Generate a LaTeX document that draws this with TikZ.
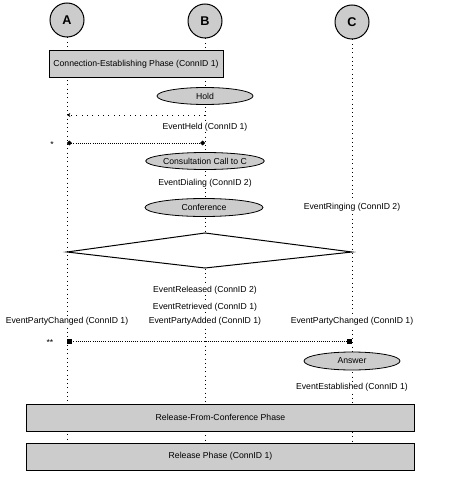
\documentclass[tikz,border=0pt]{standalone}
\usepackage{fontspec}
\setmainfont{Liberation Sans}
\usetikzlibrary{shapes.geometric,arrows.meta}

\newcommand{\evtfont}{\fontsize{6.5}{8}\selectfont}

\tikzset{
  party/.style={circle,draw,line width=0.75pt,fill=gray!40,minimum size=25.5pt,inner sep=0pt,font=\fontsize{9.5}{11}\selectfont\bfseries},
  phase/.style={draw,line width=0.75pt,fill=gray!40,inner sep=0pt,minimum height=20.25pt,font=\evtfont},
  action/.style={ellipse,draw,line width=0.6pt,fill=gray!40,inner sep=0pt,minimum height=12.75pt,font=\evtfont},
  evt/.style={fill=white,inner sep=0.75pt,font=\evtfont},
  note/.style={inner sep=0pt,font=\evtfont},
  lifeline/.style={line width=0.6pt,dash pattern=on 0.6pt off 2.6pt},
  notify/.style={line width=0.6pt,dash pattern=on 0.6pt off 3.4pt,-{Stealth[length=2.5pt,width=3pt]}},
  link/.style={line width=0.6pt,dash pattern=on 0.6pt off 1pt,{Circle[length=3.5pt]}-{Circle[length=3.5pt]}},
  bridge/.style={line width=0.6pt,dash pattern=on 0.6pt off 1pt,{Square[length=3.5pt]}-{Square[length=3.5pt]}}
}

\begin{document}
\begin{tikzpicture}[x=0.75pt,y=0.75pt,yscale=-1,xscale=1]
\useasboundingbox (0,0) rectangle (470,478);
% parties and their lifelines
\node[party] (A) at (67,20) {A};
\node[party] (B) at (205,21) {B};
\node[party] (C) at (352,22) {C};
\coordinate (bottom) at (0,443);
\foreach \p in {A,B,C}
  \draw[lifeline] (\p.south) -- (\p |- bottom);

\node[phase,minimum width=130.5pt] (establish) at (136,64.5) {Connection-Establishing Phase (ConnID 1)};

% hold
\node[action,minimum width=72pt] (hold) at (205,96) {Hold};
\coordinate (heldB) at (205,115);
\coordinate (heldA) at (67,115);
\draw[notify] (heldB) -- (heldA);
\node[evt] (held) at (205,127) {EventHeld (ConnID 1)};
\coordinate (linkA) at (67,143);
\coordinate (linkB) at (205,143);
\draw[link] (linkA) -- (linkB);
\node[note] (star) at (52,145) {*};

% consultation and conference
\node[action,minimum width=82.5pt] (consult) at (205,161) {Consultation Call to C};
\node[evt] (dialing) at (205,183) {EventDialing (ConnID 2)};
\node[action,minimum width=88.5pt,minimum height=13.5pt] (conf) at (204,207.5) {Conference};
\node[evt] (ringing) at (352,207) {EventRinging (ConnID 2)};
\draw[line width=0.75pt,fill=white] (67,252) -- (205,233) -- (352,252) -- (205,268) -- cycle;

\node[evt] (released) at (205,290) {EventReleased (ConnID 2)};
\node[evt] (retrieved) at (205,307) {EventRetrieved (ConnID 1)};
\node[evt] (changedA) at (67,321) {EventPartyChanged (ConnID 1)};
\node[evt] (added) at (205,321) {EventPartyAdded (ConnID 1)};
\node[evt] (changedC) at (352,321) {EventPartyChanged (ConnID 1)};
\coordinate (bridgeA) at (67,341);
\coordinate (bridgeC) at (352,341);
\draw[bridge] (bridgeA) -- (bridgeC);
\node[note] (stars) at (50,343) {**};

% answer
\node[action,minimum width=72pt,minimum height=13.5pt] (answer) at (352,361) {Answer};
\node[evt] (established) at (352,387) {EventEstablished (ConnID 1)};

% release
\node[phase,minimum width=291pt] (fromconf) at (220.5,417.5) {Release-From-Conference Phase};
\node[phase,minimum width=291pt] (release) at (220.5,456.5) {Release Phase (ConnID 1)};
\end{tikzpicture}
\end{document}
